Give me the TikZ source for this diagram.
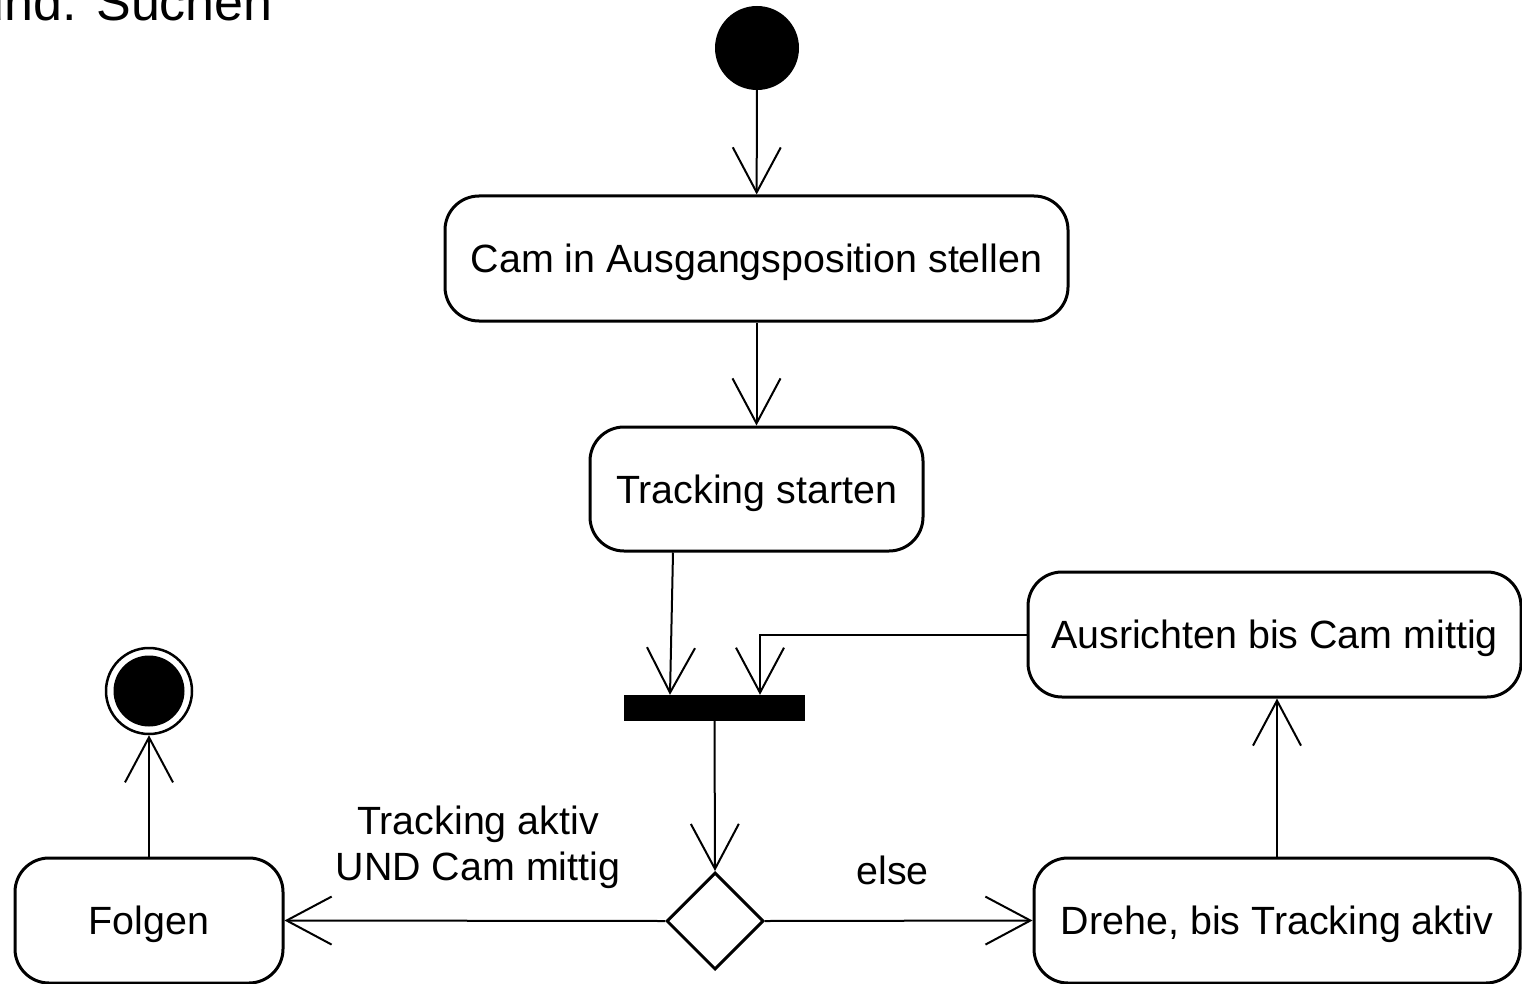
\documentclass[tikz,border=0pt]{standalone}
\usepackage{fontspec}
\setmainfont{Liberation Sans}
\usetikzlibrary{arrows.meta,shapes.geometric}
\begin{document}
\begin{tikzpicture}[x=1pt,y=-1pt,
  act/.style={draw, line width=3pt, rounded corners=34pt, inner sep=0pt,
    font=\fontsize{39.4}{46}\selectfont, text height=28pt, text depth=0pt},
  conn/.style={line width=2pt, -{Straight Barb[length=45pt,width=48pt]}},
  lbl/.style={font=\fontsize{39.4}{46}\selectfont, inner sep=0pt}]
\useasboundingbox (0,0) rectangle (1522,984);
\fill[white] (0,0) rectangle (1522,984);

\node[font=\fontsize{52}{60}\selectfont, anchor=base east, inner sep=0pt] (title) at (273,21) {und. Suchen};

\node[circle, fill=black, inner sep=0pt, minimum size=84pt] (start) at (757,48) {};
\node[act, minimum width=623pt, minimum height=125pt] (b1) at (756.5,258.5) {Cam in Ausgangsposition stellen};
\node[act, minimum width=333pt, minimum height=124pt] (b2) at (756.5,489) {Tracking starten};
\node[fill=black, inner sep=0pt, minimum width=181pt, minimum height=26pt] (bar) at (714.5,708) {};
\node[diamond, draw, line width=3pt, inner sep=0pt, minimum width=97pt, minimum height=97pt, aspect=1] (dia) at (715,921) {};
\node[act, minimum width=268pt, minimum height=125pt] (b3) at (149,920.5) {Folgen};
\node[act, minimum width=493pt, minimum height=125pt] (b4) at (1274.5,634.5) {Ausrichten bis Cam mittig};
\node[act, minimum width=486pt, minimum height=125pt] (b5) at (1277,920.5) {Drehe, bis Tracking aktiv};
\node[circle, draw, line width=2.5pt, inner sep=0pt, minimum size=86pt] (end) at (149,691) {};
\fill (end.center) circle (35.5pt);

\draw[conn] (start) -- (b1);
\draw[conn] (b1) -- (b2);
\draw[conn] ([xshift=-83.5pt]b2.south) -- ([xshift=-44.5pt]bar.north);
\draw[conn] (b4.west) -| ([xshift=45.5pt]bar.north);
\draw[conn] (bar.south) -- (dia.north);
\draw[conn] (dia.east) -- (b5.west);
\draw[conn] (dia.west) -- (b3.east);
\draw[conn] (b3.north) -- (end.south);
\draw[conn] (b5.north) -- (b5.north |- b4.south);

\node[lbl, anchor=base] (elselbl) at (892.5,884) {else};
\node[lbl, align=center] (condlbl) at (478,847.5) {Tracking aktiv\\UND Cam mittig};
\end{tikzpicture}
\end{document}
